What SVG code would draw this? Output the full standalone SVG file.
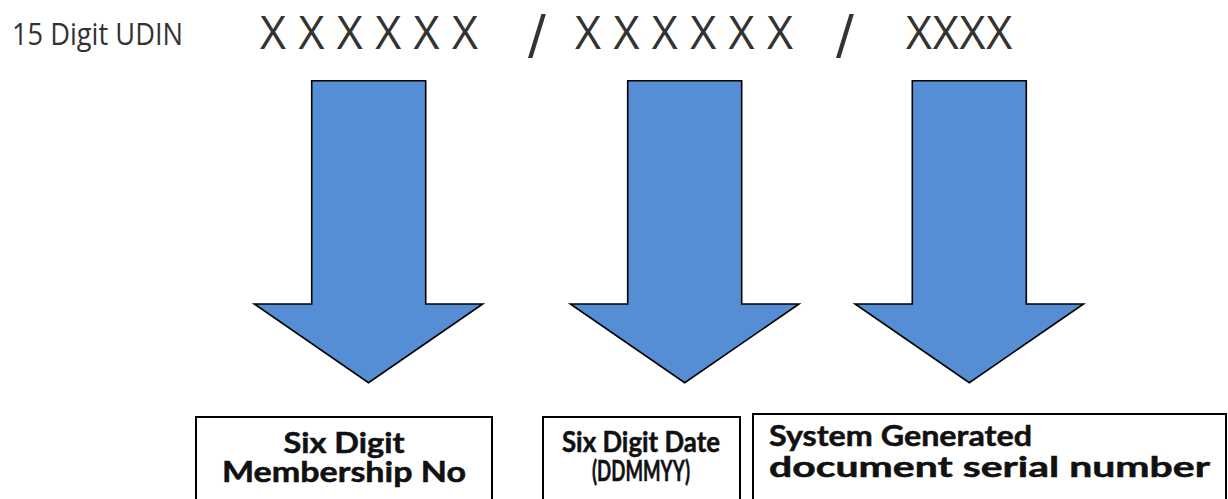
<svg xmlns="http://www.w3.org/2000/svg" width="1228" height="499" viewBox="0 0 1228 499">
  <style>
    .hdr { font-family: "Open Sans", "Liberation Sans", sans-serif; fill: #333333; }
    .slash { font-family: "DejaVu Sans", sans-serif; font-size: 53px; fill: #333333; }
    .arrow { fill: #558ED5; stroke: #000000; stroke-width: 1.6; stroke-linejoin: miter; }
    .box { fill: #ffffff; stroke: #000000; stroke-width: 2; }
    .lbl { font-family: "Lato", "DejaVu Sans", sans-serif; font-weight: bold; font-size: 28px; fill: #111111; stroke: #111111; stroke-width: 0.5; }
  </style>
  <rect width="1228" height="499" fill="#ffffff"/>

  <g id="header">
    <text class="hdr" x="12" y="45" font-size="31" textLength="171" lengthAdjust="spacingAndGlyphs">15 Digit UDIN</text>
    <text class="hdr" font-size="45" y="49" x="260 298.4 336.8 375.2 413.6 452">XXXXXX</text>
    <text class="slash" x="528" y="53">/</text>
    <text class="hdr" font-size="45" y="49" x="575 613.4 651.8 690.2 728.6 767">XXXXXX</text>
    <text class="slash" x="836" y="53">/</text>
    <text class="hdr" font-size="45" y="49" x="906 932.75 959.5 986.25">XXXX</text>
  </g>

  <g id="connectors">
    <polygon id="arrow1" class="arrow" points="311.7,80.7 425.7,80.7 425.7,304 482.7,304 368.5,382.7 254.3,304 311.7,304"/>
    <polygon id="arrow2" class="arrow" points="627.7,80.7 741.7,80.7 741.7,304 799,304 684.7,382.7 570.4,304 627.7,304"/>
    <polygon id="arrow3" class="arrow" points="912.3,80.7 1026.3,80.7 1026.3,304 1083.5,304 969.3,382.7 855.1,304 912.3,304"/>
  </g>

  <g id="node1">
    <rect class="box" x="196" y="417" width="296" height="100"/>
    <text class="lbl" x="344" y="453" text-anchor="middle" textLength="121" lengthAdjust="spacingAndGlyphs">Six Digit</text>
    <text class="lbl" x="344" y="482" text-anchor="middle" textLength="244" lengthAdjust="spacingAndGlyphs">Membership No</text>
  </g>

  <g id="node2">
    <rect class="box" x="543" y="417" width="197" height="100"/>
    <text class="lbl" x="641" y="452" text-anchor="middle" textLength="158" lengthAdjust="spacingAndGlyphs">Six Digit Date</text>
    <text class="lbl" x="641" y="481" text-anchor="middle" textLength="98" lengthAdjust="spacingAndGlyphs">(DDMMYY)</text>
  </g>

  <g id="node3">
    <rect class="box" x="753" y="414" width="473" height="100"/>
    <text class="lbl" x="769" y="446" textLength="263" lengthAdjust="spacingAndGlyphs">System Generated</text>
    <text class="lbl" x="769" y="477" textLength="441" lengthAdjust="spacingAndGlyphs">document serial number</text>
  </g>
</svg>
